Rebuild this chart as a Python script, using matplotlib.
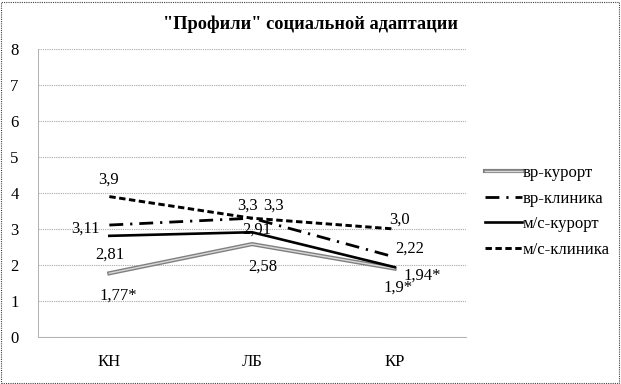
import matplotlib
matplotlib.use("Agg")
import matplotlib.pyplot as plt
import matplotlib.patheffects as pe
from matplotlib.patches import Rectangle

plt.rcParams["font.family"] = ["Liberation Serif", "DejaVu Serif"]

categories = ["КН", "ЛБ", "КР"]
vr_kurort = [1.77, 2.58, 1.9]
vr_klinika = [3.11, 3.3, 2.22]
ms_kurort = [2.81, 2.91, 1.94]
ms_klinika = [3.9, 3.3, 3.0]

lab_vr_kurort = ["1,77*", "2,58", "1,9*"]
lab_vr_klinika = ["3,11", "3,3", "2,22"]
lab_ms_kurort = ["2,81", "2,91", "1,94*"]
lab_ms_klinika = ["3,9", "3,3", "3,0"]

fig = plt.figure(figsize=(6.21, 3.84), dpi=100)
ax = fig.add_axes([38 / 621, 47 / 384, 428 / 621, 288 / 384])
x = list(range(len(categories)))

ax.plot(x, vr_kurort, color="#d8d8d8", lw=1.0, label="вр-курорт",
        path_effects=[pe.Stroke(linewidth=3.0, foreground="#808080"), pe.Normal()])
ax.plot(x, vr_klinika, color="black", lw=2.0, dashes=(5, 2.5, 0.8, 2.5), label="вр-клиника")
ax.plot(x, ms_kurort, color="black", lw=1.9, label="м/с-курорт")
ax.plot(x, ms_klinika, color="black", lw=2.1, dashes=(2.2, 1.2), label="м/с-клиника")

def put(vals, labels, offs):
    for xi, v, t, (dx, dy) in zip(x, vals, labels, offs):
        ax.annotate(t, (xi, v), xytext=(dx, dy), textcoords="offset pixels",
                    ha="center", va="center", fontsize=12)

put(ms_klinika, lab_ms_klinika, [(-1, 17), (21, 13), (5, 9)])
put(vr_klinika, lab_vr_klinika, [(-24, -4), (-4, 13), (15, 8)])
put(ms_kurort, lab_ms_kurort, [(0, -19), (5, 3), (28, -8)])
put(vr_kurort, lab_vr_kurort, [(9, -22), (11, -23), (3, -19)])

ax.set_xlim(-0.5, 2.5)
ax.set_ylim(0, 8)
ax.set_yticks(range(0, 9))
ax.set_xticks(x)
ax.set_xticklabels(categories)
ax.tick_params(length=0, labelsize=12)
ax.tick_params(axis="y", pad=14)
ax.tick_params(axis="x", pad=12)
ax.grid(axis="y", color="#a8a8a8", lw=0.8, ls=(0, (1, 1)))
for s in ["top", "right"]:
    ax.spines[s].set_visible(False)
for s in ["left", "bottom"]:
    ax.spines[s].set_color("#b0b0b0")
    ax.spines[s].set_linestyle((0, (1, 1)))
    ax.spines[s].set_linewidth(0.7)

fig.text(0.5, 1 - 24 / 384, "\"Профили\" социальной адаптации", ha="center", va="center",
         fontsize=13.2, fontweight="bold")

fig.legend(loc="upper left", bbox_to_anchor=(485 / 621, 1 - 165 / 384), frameon=False,
           borderpad=0, borderaxespad=0, fontsize=12, handlelength=2.2,
           handletextpad=0.05, labelspacing=0.58)

fig.patches.append(Rectangle((0.002, 0.003), 0.995, 0.993, transform=fig.transFigure,
                             fill=False, ec="#404040", lw=0.8, ls=(0, (1, 1))))

fig.savefig("out.png", dpi=100)
